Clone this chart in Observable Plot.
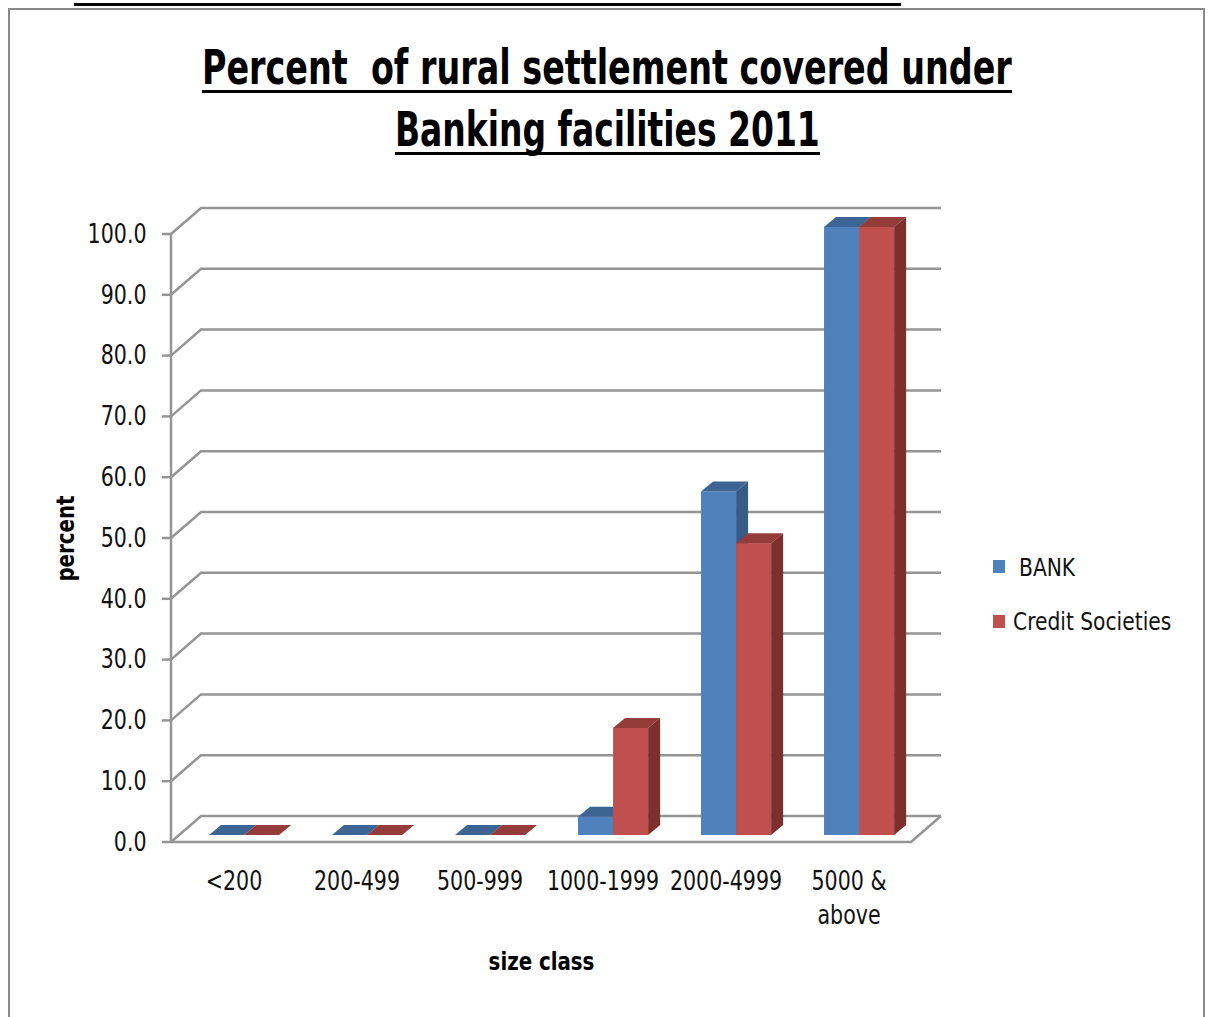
<!DOCTYPE html>
<html>
<head>
<meta charset="utf-8">
<script src="https://cdn.jsdelivr.net/npm/d3@7"></script>
<script src="https://cdn.jsdelivr.net/npm/@observablehq/plot@0.6"></script>
<style>
  body { margin: 0; background: #fff; }
  #page { position: relative; width: 1210px; height: 1017px; overflow: hidden; background: #fff;
          font-family: "Liberation Sans Narrow", "DejaVu Sans Condensed", "Liberation Sans", sans-serif; }
  #frame { position: absolute; left: 8px; top: 8px; width: 1197px; height: 1030px; border: 2px solid #8a8a8a; box-sizing: border-box; }
  #topline { position: absolute; left: 74px; top: 3px; width: 827px; height: 3px; background: #000; }
  #title { position: absolute; left: 0; top: 0; }
  #chart { position: absolute; left: 0; top: 170px; }
  .leg { position: absolute; font-size: 25px; color: #111; white-space: nowrap; line-height: 1; transform: scaleX(0.9); transform-origin: 0 50%; }
  .sw { position: absolute; width: 12px; height: 13px; }
</style>
</head>
<body>
<div id="page">
  <div id="frame"></div>
  <div id="topline"></div>
  <svg id="title" width="1210" height="170"></svg>
  <div id="chart"></div>
  <div class="sw" style="left:993px;top:560px;background:#4F81BD"></div>
  <div class="leg" style="left:1019px;top:555px">BANK</div>
  <div class="sw" style="left:993px;top:615px;background:#C0504D"></div>
  <div class="leg" style="left:1013px;top:609px">Credit Societies</div>
</div>
<script>
// ---- data ----
const titleLines = ["Percent  of rural settlement covered under", "Banking facilities 2011"];
const categories = ["<200", "200-499", "500-999", "1000-1999", "2000-4999", "5000 & above"];
const seriesNames = ["BANK", "Credit Societies"];
const bankValues = [0, 0, 0, 3.0, 56.5, 100];
const creditValues = [0, 0, 0, 17.6, 48.0, 100];
const yTicks = [0, 10, 20, 30, 40, 50, 60, 70, 80, 90, 100];
const yLabel = "percent";
const xLabel = "size class";

// ---- styles ----
const colors = {
  BANK: {front: "#4F81BD", top: "#3C6594", side: "#375B89"},
  "Credit Societies": {front: "#C0504D", top: "#933C3A", side: "#7C2F2D"}
};
const gridColor = "#959595";
const wall = {dx: 30, dy: -26};
const plane = {dx: 8, dy: -7};
const depth = {dx: 12, dy: -10};
const squeeze = 0.88;

// ---- title ----
const tsvg = d3.select("#title");
const tspec = [
  {x: 202, y: 84, len: 810, ul: 90},
  {x: 395, y: 146, len: 425, ul: 152}
];
titleLines.forEach((t, i) => {
  const s = tspec[i];
  const txt = tsvg.append("text").attr("x", 0).attr("y", 0)
    .attr("font-family", "'Liberation Sans Narrow','DejaVu Sans Condensed','Liberation Sans',sans-serif")
    .attr("font-weight", "bold").attr("font-size", 48)
    .style("white-space", "pre")
    .attr("fill", "#000").text(t);
  const L = txt.node().getComputedTextLength();
  txt.attr("transform", `translate(${s.x},${s.y}) scale(${(s.len / L).toFixed(4)},1)`);
  tsvg.append("rect").attr("x", s.x).attr("y", s.ul).attr("width", s.len).attr("height", 3).attr("fill", "#000");
});

// ---- table ----
const rows = categories.flatMap((c, i) => [
  {cat: c, series: seriesNames[0], value: bankValues[i], k: 0},
  {cat: c, series: seriesNames[1], value: creditValues[i], k: 1}
]);

function bandInfo(x, dims) {
  const x0 = dims.marginLeft, x1 = dims.width - dims.marginRight;
  const bw = typeof x.bandwidth === "function" && x.bandwidth() > 0 ? x.bandwidth() : (x1 - x0) / categories.length;
  return {x0, x1, bw};
}

// back wall, floor, axis line and ticks
function gridMark(index, scales, values, dims) {
  const x = scales.x, y = scales.y;
  const {x0, x1} = bandInfo(x, dims);
  const g = d3.create("svg:g").attr("fill", "none").attr("stroke", gridColor).attr("stroke-width", 2.5);
  for (const t of yTicks) {
    const yf = y(t);
    g.append("polyline").attr("points", [
      [x0, yf], [x0 + wall.dx, yf + wall.dy], [x1 + wall.dx, yf + wall.dy]
    ].map(p => p.join(",")).join(" "));
    g.append("line").attr("x1", x0 - 9).attr("x2", x0).attr("y1", yf).attr("y2", yf);
  }
  const y0 = y(0);
  g.append("polyline").attr("points", [[x0, y0], [x1, y0], [x1 + wall.dx, y0 + wall.dy]].map(p => p.join(",")).join(" "));
  g.append("line").attr("x1", x0).attr("x2", x0).attr("y1", y(yTicks[yTicks.length - 1])).attr("y2", y0);
  return g.node();
}

// 3D bars
function barsMark(index, scales, values, dims) {
  const x = scales.x, y = scales.y;
  const {bw} = bandInfo(x, dims);
  const offset = bw * 0.236, barW = bw * 0.285;
  const g = d3.create("svg:g");
  const pts = a => a.map(p => p.join(",")).join(" ");
  for (const r of rows) {
    const c = colors[r.series];
    const left = x(r.cat) + plane.dx + offset + r.k * barW, right = left + barW;
    const top = y(r.value) + plane.dy, bottom = y(0) + plane.dy;
    if (bottom - top > 0.5) {
      g.append("rect").attr("x", left).attr("y", top).attr("width", barW).attr("height", bottom - top).attr("fill", c.front);
    }
    g.append("polygon").attr("fill", c.top).attr("points", pts([
      [left, top], [left + depth.dx, top + depth.dy], [right + depth.dx, top + depth.dy], [right, top]
    ]));
    if (bottom - top > 0.5) {
      g.append("polygon").attr("fill", c.side).attr("points", pts([
        [right, top], [right + depth.dx, top + depth.dy], [right + depth.dx, bottom + depth.dy], [right, bottom]
      ]));
    }
  }
  return g.node();
}

const font = "'Liberation Sans Narrow','DejaVu Sans Condensed','Liberation Sans',sans-serif";
const chart = Plot.plot({
  width: 1210,
  height: 830,
  marginLeft: 171,
  marginRight: 299,
  marginTop: 64,
  marginBottom: 158,
  x: {type: "band", domain: categories, padding: 0, axis: null},
  y: {domain: [0, 100], axis: null},
  style: {fontFamily: font, fontSize: "26px", color: "#111", background: "transparent", overflow: "visible"},
  marks: [
    gridMark,
    barsMark,
    Plot.axisY(yTicks, {tickSize: 0, tickPadding: 25, tickFormat: d => d.toFixed(1), label: null, fontSize: 26}),
    Plot.text(categories, {
      x: d => d, y: () => 0, text: d => d.replace(" & ", " &\n"),
      dy: 23, lineAnchor: "top", lineHeight: 1.32, fontSize: 26, fill: "#111"
    }),
    Plot.text([yLabel], {frameAnchor: "left", textAnchor: "middle", dx: -106, rotate: -90, fontWeight: "bold", fontSize: 25, fill: "#000"}),
    Plot.text([xLabel], {frameAnchor: "bottom", dy: 127, fontWeight: "bold", fontSize: 25, fill: "#000"})
  ]
});
document.getElementById("chart").appendChild(chart);

// condense chart texts horizontally (reference font is narrower)
d3.select(chart).selectAll("text").each(function () {
  const tsp = this.querySelectorAll("tspan");
  const targets = tsp.length ? Array.from(tsp) : [this];
  for (const el of targets) {
    const len = el.getComputedTextLength();
    if (len > 0) {
      el.setAttribute("textLength", (len * squeeze).toFixed(1));
      el.setAttribute("lengthAdjust", "spacingAndGlyphs");
    }
  }
});
</script>
</body>
</html>
